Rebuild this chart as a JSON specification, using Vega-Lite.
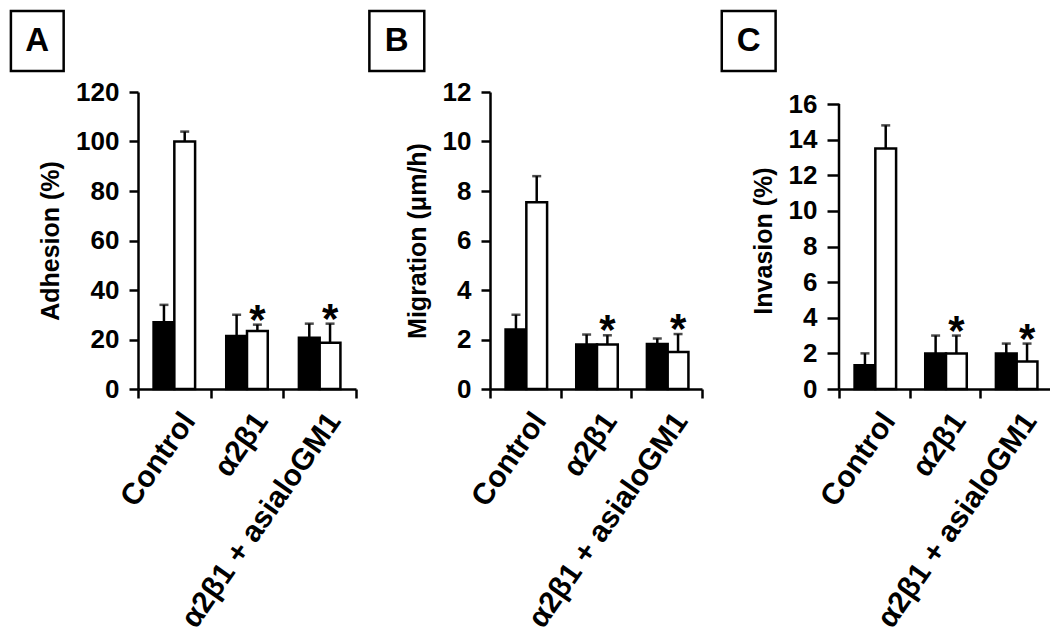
{
  "$schema": "https://vega.github.io/schema/vega-lite/v6.json",
  "padding": {"left": 9, "top": 9, "right": 2, "bottom": 2},
  "background": "white",
  "datasets": {
    "adhesion": [
      {"group": "Control", "series": "s1", "value": 27, "err": 34, "sig": 0},
      {"group": "Control", "series": "s2", "value": 100, "err": 104, "sig": 0},
      {"group": "α2β1", "series": "s1", "value": 21.4, "err": 30, "sig": 0},
      {"group": "α2β1", "series": "s2", "value": 23.4, "err": 26, "sig": 1},
      {"group": "α2β1 + asialoGM1", "series": "s1", "value": 20.7, "err": 26.4, "sig": 0},
      {"group": "α2β1 + asialoGM1", "series": "s2", "value": 18.7, "err": 26.4, "sig": 1}
    ],
    "migration": [
      {"group": "Control", "series": "s1", "value": 2.4, "err": 3.0, "sig": 0},
      {"group": "Control", "series": "s2", "value": 7.55, "err": 8.6, "sig": 0},
      {"group": "α2β1", "series": "s1", "value": 1.8, "err": 2.2, "sig": 0},
      {"group": "α2β1", "series": "s2", "value": 1.8, "err": 2.17, "sig": 1},
      {"group": "α2β1 + asialoGM1", "series": "s1", "value": 1.82, "err": 2.04, "sig": 0},
      {"group": "α2β1 + asialoGM1", "series": "s2", "value": 1.5, "err": 2.22, "sig": 1}
    ],
    "invasion": [
      {"group": "Control", "series": "s1", "value": 1.33, "err": 2.0, "sig": 0},
      {"group": "Control", "series": "s2", "value": 13.5, "err": 14.8, "sig": 0},
      {"group": "α2β1", "series": "s1", "value": 2.0, "err": 3.0, "sig": 0},
      {"group": "α2β1", "series": "s2", "value": 2.0, "err": 3.0, "sig": 1},
      {"group": "α2β1 + asialoGM1", "series": "s1", "value": 2.0, "err": 2.55, "sig": 0},
      {"group": "α2β1 + asialoGM1", "series": "s2", "value": 1.55, "err": 2.55, "sig": 1}
    ]
  },
  "columns": 3,
  "align": "none",
  "spacing": 10,
  "concat": [
    {
      "width": 218, "height": 297,
      "layer": [
        {
          "data": {"name": "adhesion"},
          "layer": [
            {"mark": {"type": "bar", "stroke": "black", "strokeWidth": 2.5},
             "encoding": {
               "x": {"field": "group", "type": "nominal", "sort": null, "scale": {"paddingInner": 0, "paddingOuter": 0}, "axis": {"title": null}},
               "xOffset": {"field": "series", "type": "nominal", "sort": null, "scale": {"paddingInner": 0, "paddingOuter": 0.75}},
               "y": {"field": "value", "type": "quantitative", "scale": {"domain": [0, 120], "nice": false}, "axis": {"title": "Adhesion (%)", "values": [0, 20, 40, 60, 80, 100, 120], "tickCount": 20, "format": "d"}},
               "fill": {"field": "series", "type": "nominal", "scale": {"domain": ["s1", "s2"], "range": ["black", "white"]}, "legend": null}
             }},
            {"mark": {"type": "rule", "color": "black", "strokeWidth": 2.5},
             "encoding": {
               "x": {"field": "group", "type": "nominal", "sort": null},
               "xOffset": {"field": "series", "type": "nominal", "sort": null},
               "y": {"field": "value", "type": "quantitative", "axis": {"title": "Adhesion (%)", "values": [0, 20, 40, 60, 80, 100, 120], "tickCount": 20, "format": "d"}},
               "y2": {"field": "err"}
             }},
            {"mark": {"type": "tick", "orient": "horizontal", "color": "black", "size": 9, "thickness": 2.5},
             "encoding": {
               "x": {"field": "group", "type": "nominal", "sort": null},
               "xOffset": {"field": "series", "type": "nominal", "sort": null},
               "y": {"field": "err", "type": "quantitative", "axis": {"title": "Adhesion (%)", "values": [0, 20, 40, 60, 80, 100, 120], "tickCount": 20, "format": "d"}}
             }},
            {"transform": [{"filter": "datum.sig == 1"}],
             "mark": {"type": "text", "text": "*", "fontSize": 42, "fontWeight": "bold", "baseline": "alphabetic", "dy": 9, "color": "black"},
             "encoding": {
               "x": {"field": "group", "type": "nominal", "sort": null},
               "xOffset": {"field": "series", "type": "nominal", "sort": null},
               "y": {"field": "err", "type": "quantitative", "axis": {"title": "Adhesion (%)", "values": [0, 20, 40, 60, 80, 100, 120], "tickCount": 20, "format": "d"}}
             }}
          ]
        },
        {
          "data": {"values": [{}]},
          "layer": [
            {"mark": {"type": "rect", "fill": null, "stroke": "black", "strokeWidth": 2.5},
             "encoding": {
               "x": {"datum": -0.583, "type": "quantitative", "scale": {"domain": [0, 1], "nice": false, "zero": false}, "axis": null},
               "x2": {"datum": -0.341},
               "y": {"datum": 152.7, "type": "quantitative", "scale": {"domain": [0, 120], "nice": false}, "axis": {"title": "Adhesion (%)", "values": [0, 20, 40, 60, 80, 100, 120], "tickCount": 20, "format": "d"}},
               "y2": {"datum": 128.5}
             }},
            {"mark": {"type": "text", "text": "A", "fontSize": 33, "fontWeight": "bold", "baseline": "middle", "align": "center", "color": "black"},
             "encoding": {
               "x": {"datum": -0.462, "type": "quantitative"},
               "y": {"datum": 140.6, "type": "quantitative", "axis": {"title": "Adhesion (%)", "values": [0, 20, 40, 60, 80, 100, 120], "tickCount": 20, "format": "d"}}
             }}
          ]
        }
      ],
      "resolve": {"scale": {"x": "independent"}}
    },
    {
      "width": 212, "height": 297,
      "layer": [
        {
          "data": {"name": "migration"},
          "layer": [
            {"mark": {"type": "bar", "stroke": "black", "strokeWidth": 2.5},
             "encoding": {
               "x": {"field": "group", "type": "nominal", "sort": null, "scale": {"paddingInner": 0, "paddingOuter": 0}, "axis": {"title": null}},
               "xOffset": {"field": "series", "type": "nominal", "sort": null, "scale": {"paddingInner": 0, "paddingOuter": 0.75}},
               "y": {"field": "value", "type": "quantitative", "scale": {"domain": [0, 12], "nice": false}, "axis": {"title": "Migration (μm/h)", "values": [0, 2, 4, 6, 8, 10, 12], "tickCount": 20, "format": "d"}},
               "fill": {"field": "series", "type": "nominal", "scale": {"domain": ["s1", "s2"], "range": ["black", "white"]}, "legend": null}
             }},
            {"mark": {"type": "rule", "color": "black", "strokeWidth": 2.5},
             "encoding": {
               "x": {"field": "group", "type": "nominal", "sort": null},
               "xOffset": {"field": "series", "type": "nominal", "sort": null},
               "y": {"field": "value", "type": "quantitative", "axis": {"title": "Migration (μm/h)", "values": [0, 2, 4, 6, 8, 10, 12], "tickCount": 20, "format": "d"}},
               "y2": {"field": "err"}
             }},
            {"mark": {"type": "tick", "orient": "horizontal", "color": "black", "size": 9, "thickness": 2.5},
             "encoding": {
               "x": {"field": "group", "type": "nominal", "sort": null},
               "xOffset": {"field": "series", "type": "nominal", "sort": null},
               "y": {"field": "err", "type": "quantitative", "axis": {"title": "Migration (μm/h)", "values": [0, 2, 4, 6, 8, 10, 12], "tickCount": 20, "format": "d"}}
             }},
            {"transform": [{"filter": "datum.sig == 1"}],
             "mark": {"type": "text", "text": "*", "fontSize": 42, "fontWeight": "bold", "baseline": "alphabetic", "dy": 9, "color": "black"},
             "encoding": {
               "x": {"field": "group", "type": "nominal", "sort": null},
               "xOffset": {"field": "series", "type": "nominal", "sort": null},
               "y": {"field": "err", "type": "quantitative", "axis": {"title": "Migration (μm/h)", "values": [0, 2, 4, 6, 8, 10, 12], "tickCount": 20, "format": "d"}}
             }}
          ]
        },
        {
          "data": {"values": [{}]},
          "layer": [
            {"mark": {"type": "rect", "fill": null, "stroke": "black", "strokeWidth": 2.5},
             "encoding": {
               "x": {"datum": -0.569, "type": "quantitative", "scale": {"domain": [0, 1], "nice": false, "zero": false}, "axis": null},
               "x2": {"datum": -0.31},
               "y": {"datum": 15.27, "type": "quantitative", "scale": {"domain": [0, 12], "nice": false}, "axis": {"title": "Migration (μm/h)", "values": [0, 2, 4, 6, 8, 10, 12], "tickCount": 20, "format": "d"}},
               "y2": {"datum": 12.85}
             }},
            {"mark": {"type": "text", "text": "B", "fontSize": 33, "fontWeight": "bold", "baseline": "middle", "align": "center", "color": "black"},
             "encoding": {
               "x": {"datum": -0.44, "type": "quantitative"},
               "y": {"datum": 14.06, "type": "quantitative", "axis": {"title": "Migration (μm/h)", "values": [0, 2, 4, 6, 8, 10, 12], "tickCount": 20, "format": "d"}}
             }}
          ]
        }
      ],
      "resolve": {"scale": {"x": "independent"}}
    },
    {
      "width": 212, "height": 297,
      "layer": [
        {
          "data": {"name": "invasion"},
          "layer": [
            {"mark": {"type": "bar", "stroke": "black", "strokeWidth": 2.5},
             "encoding": {
               "x": {"field": "group", "type": "nominal", "sort": null, "scale": {"paddingInner": 0, "paddingOuter": 0}, "axis": {"title": null}},
               "xOffset": {"field": "series", "type": "nominal", "sort": null, "scale": {"paddingInner": 0, "paddingOuter": 0.75}},
               "y": {"field": "value", "type": "quantitative", "scale": {"domain": [0, 16.674], "nice": false}, "axis": {"title": "Invasion (%)", "values": [0, 2, 4, 6, 8, 10, 12, 14, 16], "tickCount": 20, "format": "d", "domain": false, "tickSize": 12, "labelPadding": 10}},
               "fill": {"field": "series", "type": "nominal", "scale": {"domain": ["s1", "s2"], "range": ["black", "white"]}, "legend": null}
             }},
            {"mark": {"type": "rule", "color": "black", "strokeWidth": 2.5},
             "encoding": {
               "x": {"field": "group", "type": "nominal", "sort": null},
               "xOffset": {"field": "series", "type": "nominal", "sort": null},
               "y": {"field": "value", "type": "quantitative", "axis": {"title": "Invasion (%)", "values": [0, 2, 4, 6, 8, 10, 12, 14, 16], "tickCount": 20, "format": "d", "domain": false, "tickSize": 12, "labelPadding": 10}},
               "y2": {"field": "err"}
             }},
            {"mark": {"type": "tick", "orient": "horizontal", "color": "black", "size": 9, "thickness": 2.5},
             "encoding": {
               "x": {"field": "group", "type": "nominal", "sort": null},
               "xOffset": {"field": "series", "type": "nominal", "sort": null},
               "y": {"field": "err", "type": "quantitative", "axis": {"title": "Invasion (%)", "values": [0, 2, 4, 6, 8, 10, 12, 14, 16], "tickCount": 20, "format": "d", "domain": false, "tickSize": 12, "labelPadding": 10}}
             }},
            {"transform": [{"filter": "datum.sig == 1"}],
             "mark": {"type": "text", "text": "*", "fontSize": 42, "fontWeight": "bold", "baseline": "alphabetic", "dy": 9, "color": "black"},
             "encoding": {
               "x": {"field": "group", "type": "nominal", "sort": null},
               "xOffset": {"field": "series", "type": "nominal", "sort": null},
               "y": {"field": "err", "type": "quantitative", "axis": {"title": "Invasion (%)", "values": [0, 2, 4, 6, 8, 10, 12, 14, 16], "tickCount": 20, "format": "d", "domain": false, "tickSize": 12, "labelPadding": 10}}
             }}
          ]
        },
        {
          "data": {"values": [{}]},
          "layer": [
            {"mark": {"type": "rect", "fill": null, "stroke": "black", "strokeWidth": 2.5},
             "encoding": {
               "x": {"datum": -0.553, "type": "quantitative", "scale": {"domain": [0, 1], "nice": false, "zero": false}, "axis": null},
               "x2": {"datum": -0.299},
               "y": {"datum": 21.22, "type": "quantitative", "scale": {"domain": [0, 16.674], "nice": false}, "axis": {"title": "Invasion (%)", "values": [0, 2, 4, 6, 8, 10, 12, 14, 16], "tickCount": 20, "format": "d", "domain": false, "tickSize": 12, "labelPadding": 10}},
               "y2": {"datum": 17.85}
             }},
            {"mark": {"type": "rect", "opacity": 0},
             "encoding": {
               "x": {"datum": -0.586, "type": "quantitative"},
               "x2": {"datum": -0.553},
               "y": {"datum": 21.22, "type": "quantitative", "axis": {"title": "Invasion (%)", "values": [0, 2, 4, 6, 8, 10, 12, 14, 16], "tickCount": 20, "format": "d", "domain": false, "tickSize": 12, "labelPadding": 10}},
               "y2": {"datum": 17.85}
             }},
            {"mark": {"type": "rule", "color": "black", "strokeWidth": 2.5},
             "encoding": {
               "x": {"datum": 0, "type": "quantitative"},
               "y": {"datum": 0, "type": "quantitative", "axis": {"title": "Invasion (%)", "values": [0, 2, 4, 6, 8, 10, 12, 14, 16], "tickCount": 20, "format": "d", "domain": false, "tickSize": 12, "labelPadding": 10}},
               "y2": {"datum": 16}
             }},
            {"mark": {"type": "text", "text": "C", "fontSize": 33, "fontWeight": "bold", "baseline": "middle", "align": "center", "color": "black"},
             "encoding": {
               "x": {"datum": -0.426, "type": "quantitative"},
               "y": {"datum": 19.53, "type": "quantitative", "axis": {"title": "Invasion (%)", "values": [0, 2, 4, 6, 8, 10, 12, 14, 16], "tickCount": 20, "format": "d", "domain": false, "tickSize": 12, "labelPadding": 10}}
             }}
          ]
        }
      ],
      "resolve": {"scale": {"x": "independent"}}
    }
  ],
  "config": {
    "font": "Liberation Sans",
    "view": {"stroke": null},
    "axis": {"domainColor": "black", "domainWidth": 2.5, "tickColor": "black", "tickWidth": 2.5, "labelColor": "black", "labelFontWeight": "bold", "titleColor": "black", "titleFontWeight": "bold", "titleFontSize": 25, "grid": false, "labelOverlap": false, "labelLimit": 400},
    "axisY": {"tickSize": 9, "labelFontSize": 26, "labelPadding": 10, "titlePadding": 12},
    "axisX": {"tickSize": 9, "labelFontSize": 30, "labelAngle": -55, "labelAlign": "right", "labelBaseline": "top", "labelOffset": 2, "labelPadding": 9, "tickBand": "extent"}
  }
}
